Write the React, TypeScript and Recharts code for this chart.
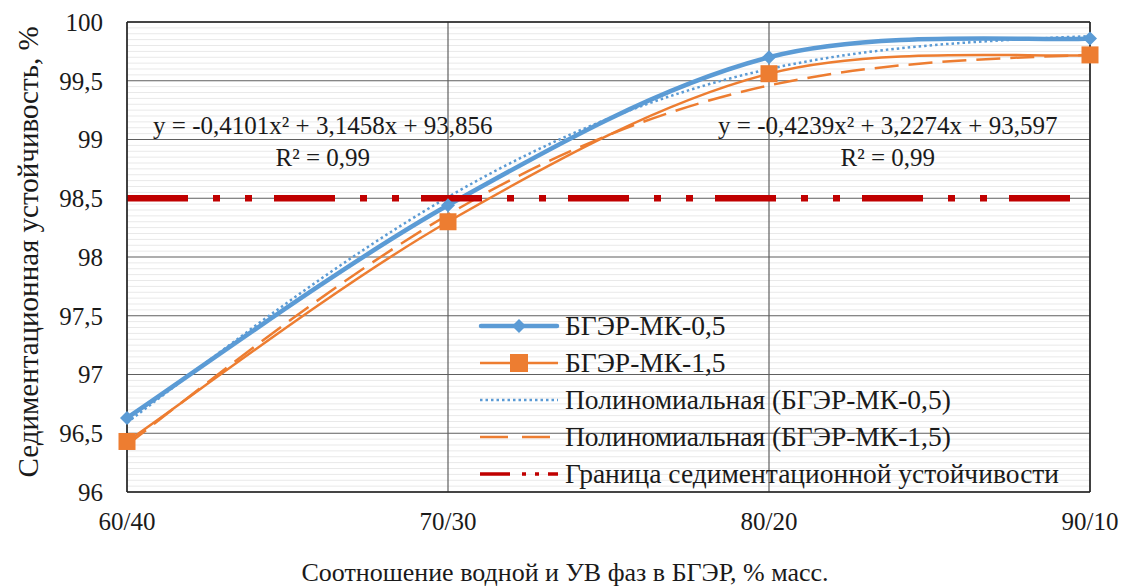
import {
  LineChart,
  Line,
  XAxis,
  YAxis,
  ReferenceLine,
  ReferenceDot,
  Legend,
} from "recharts";

const categories = ["60/40", "70/30", "80/20", "90/10"];
const mk05 = [96.63, 98.44, 99.7, 99.86];
const mk15 = [96.43, 98.3, 99.56, 99.72];
const trend05 = [96.59, 98.51, 99.6, 99.88];
const trend15 = [96.4, 98.36, 99.46, 99.72];
const limit = 98.5;
const yTicks = [96, 96.5, 97, 97.5, 98, 98.5, 99, 99.5, 100];
const xTicks = [0, 1, 2, 3];

const eq05 = "y = -0,4101x² + 3,1458x + 93,856";
const eq15 = "y = -0,4239x² + 3,2274x + 93,597";
const r2 = "R² = 0,99";

// light minor grid every 0.05
const minorTicks = Array.from({ length: 81 }, (_, i) => 96 + i * 0.05).filter(
  (v) => Math.abs(v * 2 - Math.round(v * 2)) > 0.01
);

const data = categories.map((c, i) => ({
  x: i,
  mk05: mk05[i],
  mk15: mk15[i],
  trend05: trend05[i],
  trend15: trend15[i],
  limit,
}));

const FONT = "Liberation Serif, serif";
const BLUE = "#5B9BD5";
const ORANGE = "#ED7D31";
const RED = "#C00000";
const GRID = "#5f5f5f";
const TEXT = "#1a1a1a";

const fmt = (v: number) => String(v).replace(".", ",");

// Excel-like smoothed line (Catmull-Rom through the points)
class SmoothCurve {
  _ctx: any;
  _pts: number[][] = [];
  constructor(ctx: any) {
    this._ctx = ctx;
  }
  areaStart() {}
  areaEnd() {}
  lineStart() {
    this._pts = [];
  }
  point(x: number, y: number) {
    this._pts.push([+x, +y]);
  }
  lineEnd() {
    const p = this._pts;
    const n = p.length;
    if (!n) return;
    const c = this._ctx;
    c.moveTo(p[0][0], p[0][1]);
    for (let i = 0; i < n - 1; i++) {
      const p0 = p[Math.max(i - 1, 0)];
      const p1 = p[i];
      const p2 = p[i + 1];
      const p3 = p[Math.min(i + 2, n - 1)];
      c.bezierCurveTo(
        p1[0] + (p2[0] - p0[0]) / 6,
        p1[1] + (p2[1] - p0[1]) / 6,
        p2[0] - (p3[0] - p1[0]) / 6,
        p2[1] - (p3[1] - p1[1]) / 6,
        p2[0],
        p2[1]
      );
    }
  }
}
const smooth: any = (ctx: any) => new SmoothCurve(ctx);

const Diamond = (props: any) => {
  const { cx, cy } = props;
  if (cx == null || cy == null) return null;
  const s = 7;
  return (
    <polygon
      points={`${cx},${cy - s} ${cx + s},${cy} ${cx},${cy + s} ${cx - s},${cy}`}
      fill={BLUE}
    />
  );
};

const Square = (props: any) => {
  const { cx, cy } = props;
  if (cx == null || cy == null) return null;
  const s = 8.5;
  return <rect x={cx - s} y={cy - s} width={s * 2} height={s * 2} fill={ORANGE} />;
};

const legendItems = [
  { label: "БГЭР-МК-0,5", kind: "blue" },
  { label: "БГЭР-МК-1,5", kind: "orange" },
  { label: "Полиномиальная (БГЭР-МК-0,5)", kind: "dot" },
  { label: "Полиномиальная (БГЭР-МК-1,5)", kind: "dash" },
  { label: "Граница седиментационной устойчивости", kind: "red" },
];

const LegendIcon = ({ kind }: { kind: string }) => {
  if (kind === "blue")
    return (
      <svg width={82} height={20}>
        <line x1={3} y1={10} x2={79} y2={10} stroke={BLUE} strokeWidth={4.5} strokeLinecap="round" />
        <polygon points="41,3 48,10 41,17 34,10" fill={BLUE} />
      </svg>
    );
  if (kind === "orange")
    return (
      <svg width={82} height={20}>
        <line x1={2} y1={10} x2={80} y2={10} stroke={ORANGE} strokeWidth={2.5} />
        <rect x={32} y={1} width={18} height={18} fill={ORANGE} />
      </svg>
    );
  if (kind === "dot")
    return (
      <svg width={82} height={20}>
        <line x1={2} y1={10} x2={80} y2={10} stroke={BLUE} strokeWidth={2.5} strokeDasharray="2.5 3" />
      </svg>
    );
  if (kind === "dash")
    return (
      <svg width={82} height={20}>
        <line x1={2} y1={10} x2={80} y2={10} stroke={ORANGE} strokeWidth={2.5} strokeDasharray="28 14" />
      </svg>
    );
  return (
    <svg width={82} height={20}>
      <line x1={2} y1={10} x2={80} y2={10} stroke={RED} strokeWidth={3.5} strokeDasharray="30 12 4 9 4 9" />
    </svg>
  );
};

const renderLegend = () => (
  <div style={{ fontFamily: FONT, fontSize: 27.5, color: TEXT }}>
    {legendItems.map((it) => (
      <div key={it.label} style={{ display: "flex", alignItems: "center", height: 37 }}>
        <LegendIcon kind={it.kind} />
        <span style={{ marginLeft: 5, whiteSpace: "nowrap", lineHeight: "37px" }}>{it.label}</span>
      </div>
    ))}
  </div>
);

const eqLabel = (text: string) => ({
  value: text,
  position: "center" as const,
  fill: TEXT,
  fontSize: 25,
  fontFamily: FONT,
});

export default function App() {
  return (
    <div style={{ position: "absolute", left: 0, top: 0, background: "#fff" }}>
      <LineChart
        width={1130}
        height={588}
        data={data}
        margin={{ top: 22, right: 40, bottom: 0, left: 0 }}
      >
        <XAxis
          dataKey="x"
          type="number"
          domain={[0, 3]}
          ticks={xTicks}
          tickFormatter={(i: number) => categories[i]}
          height={96}
          tickSize={0}
          tickMargin={20}
          axisLine={{ stroke: "#222", strokeWidth: 1.5 }}
          tick={{ fill: TEXT, fontSize: 25, fontFamily: FONT }}
          label={{
            content: () => (
              <text x={565} y={581} textAnchor="middle" fill={TEXT} fontSize={26} fontFamily={FONT}>
                Соотношение водной и УВ фаз в БГЭР, % масс.
              </text>
            ),
          }}
        />
        <YAxis
          type="number"
          domain={[96, 100]}
          ticks={yTicks}
          tickFormatter={fmt}
          width={127}
          tickSize={0}
          tickMargin={24}
          axisLine={{ stroke: "#222", strokeWidth: 1.5 }}
          tick={{ fill: TEXT, fontSize: 25, fontFamily: FONT }}
          label={{
            content: () => (
              <text
                x={0}
                y={0}
                transform="translate(38 252) rotate(-90)"
                textAnchor="middle"
                fill={TEXT}
                fontSize={29}
                fontFamily={FONT}
              >
                Седиментационная устойчивость, %
              </text>
            ),
          }}
        />
        {minorTicks.map((v) => (
          <ReferenceLine key={v} y={v} stroke="#e9e9e9" strokeWidth={1} />
        ))}
        {yTicks.map((v) => (
          <ReferenceLine key={"y" + v} y={v} stroke={GRID} strokeWidth={1.2} />
        ))}
        {xTicks.map((v) => (
          <ReferenceLine key={"x" + v} x={v} stroke={GRID} strokeWidth={1.2} />
        ))}
        <ReferenceLine y={100} stroke="#222" strokeWidth={1.5} />
        <ReferenceLine x={3} stroke="#222" strokeWidth={1.5} />

        <ReferenceDot x={0.61} y={99.12} r={0} fill="none" stroke="none" label={eqLabel(eq05)} />
        <ReferenceDot x={0.61} y={98.85} r={0} fill="none" stroke="none" label={eqLabel(r2)} />
        <ReferenceDot x={2.37} y={99.12} r={0} fill="none" stroke="none" label={eqLabel(eq15)} />
        <ReferenceDot x={2.37} y={98.85} r={0} fill="none" stroke="none" label={eqLabel(r2)} />

        <Line
          type={smooth}
          dataKey="mk05"
          stroke={BLUE}
          strokeWidth={4.5}
          dot={<Diamond />}
          activeDot={false}
          isAnimationActive={false}
        />
        <Line
          type={smooth}
          dataKey="mk15"
          stroke={ORANGE}
          strokeWidth={2.5}
          dot={<Square />}
          activeDot={false}
          isAnimationActive={false}
        />
        <Line
          type="natural"
          dataKey="trend05"
          stroke={BLUE}
          strokeWidth={2.5}
          strokeDasharray="2.5 3"
          dot={false}
          activeDot={false}
          isAnimationActive={false}
        />
        <Line
          type="natural"
          dataKey="trend15"
          stroke={ORANGE}
          strokeWidth={2.5}
          strokeDasharray="24 10"
          dot={false}
          activeDot={false}
          isAnimationActive={false}
        />
        <Line
          type="linear"
          dataKey="limit"
          stroke={RED}
          strokeWidth={6.5}
          strokeDasharray="61 25 7 25 7 22"
          dot={false}
          activeDot={false}
          isAnimationActive={false}
        />
        <Legend
          layout="vertical"
          align="center"
          verticalAlign="middle"
          content={renderLegend}
          wrapperStyle={{ position: "absolute", left: 478, top: 307, width: 640 }}
        />
      </LineChart>
    </div>
  );
}
